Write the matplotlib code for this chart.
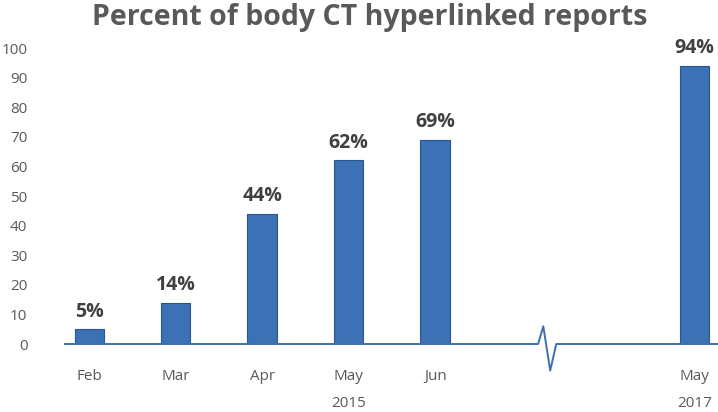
import matplotlib.pyplot as plt
import numpy as np

months = ["Feb", "Mar", "Apr", "May", "Jun", "May"]
slots = [0, 1, 2, 3, 4, 7]
percent = [5, 14, 44, 62, 69, 94]
years = ["2015", "2017"]
year_slots = [3, 7]
break_at = 5.27

gray = "#595959"
fig = plt.figure(figsize=(7.18, 4.12), dpi=100)
ax = fig.add_axes([65 / 718, 68 / 412, 653 / 718, 296 / 412])

ax.bar(slots, percent, width=0.34, color="#3c71b6", edgecolor="#2a5590",
       linewidth=0.8, zorder=3)
for x, v in zip(slots, percent):
    ax.text(x, v + 2.5, f"{v}%", ha="center", va="bottom", fontsize=14,
            fontweight="bold", color="#404040", family="Open Sans")

# baseline with break mark
bx = [-0.28, break_at - 0.08, break_at - 0.02, break_at + 0.06, break_at + 0.13, 7.3]
by = [0, 0, 6, -9, 0, 0]
ax.plot(bx, by, color="#3f70ad", lw=1.4, clip_on=False, zorder=5)

ax.set_xlim(-0.28, 7.27)
ax.set_ylim(0, 100)
ax.set_yticks(np.arange(0, 101, 10))
ax.set_xticks(slots)
ax.set_xticklabels(months)
ax.tick_params(axis="y", length=0, pad=27, labelsize=11, labelcolor=gray)
ax.tick_params(axis="x", length=0, pad=18, labelsize=11, labelcolor=gray)
for lab in ax.get_xticklabels() + ax.get_yticklabels():
    lab.set_family("Open Sans")
for s in ax.spines.values():
    s.set_visible(False)

for x, y in zip(year_slots, years):
    ax.text(x, -20, y, ha="center", va="center", fontsize=11, color=gray,
            family="Open Sans", transform=ax.transData)

fig.text(370 / 718, 1 - 17 / 412, "Percent of body CT hyperlinked reports",
         ha="center", va="center", fontsize=20.5, fontweight="bold", color=gray,
         family="Open Sans")

fig.savefig("out.png", dpi=100)
